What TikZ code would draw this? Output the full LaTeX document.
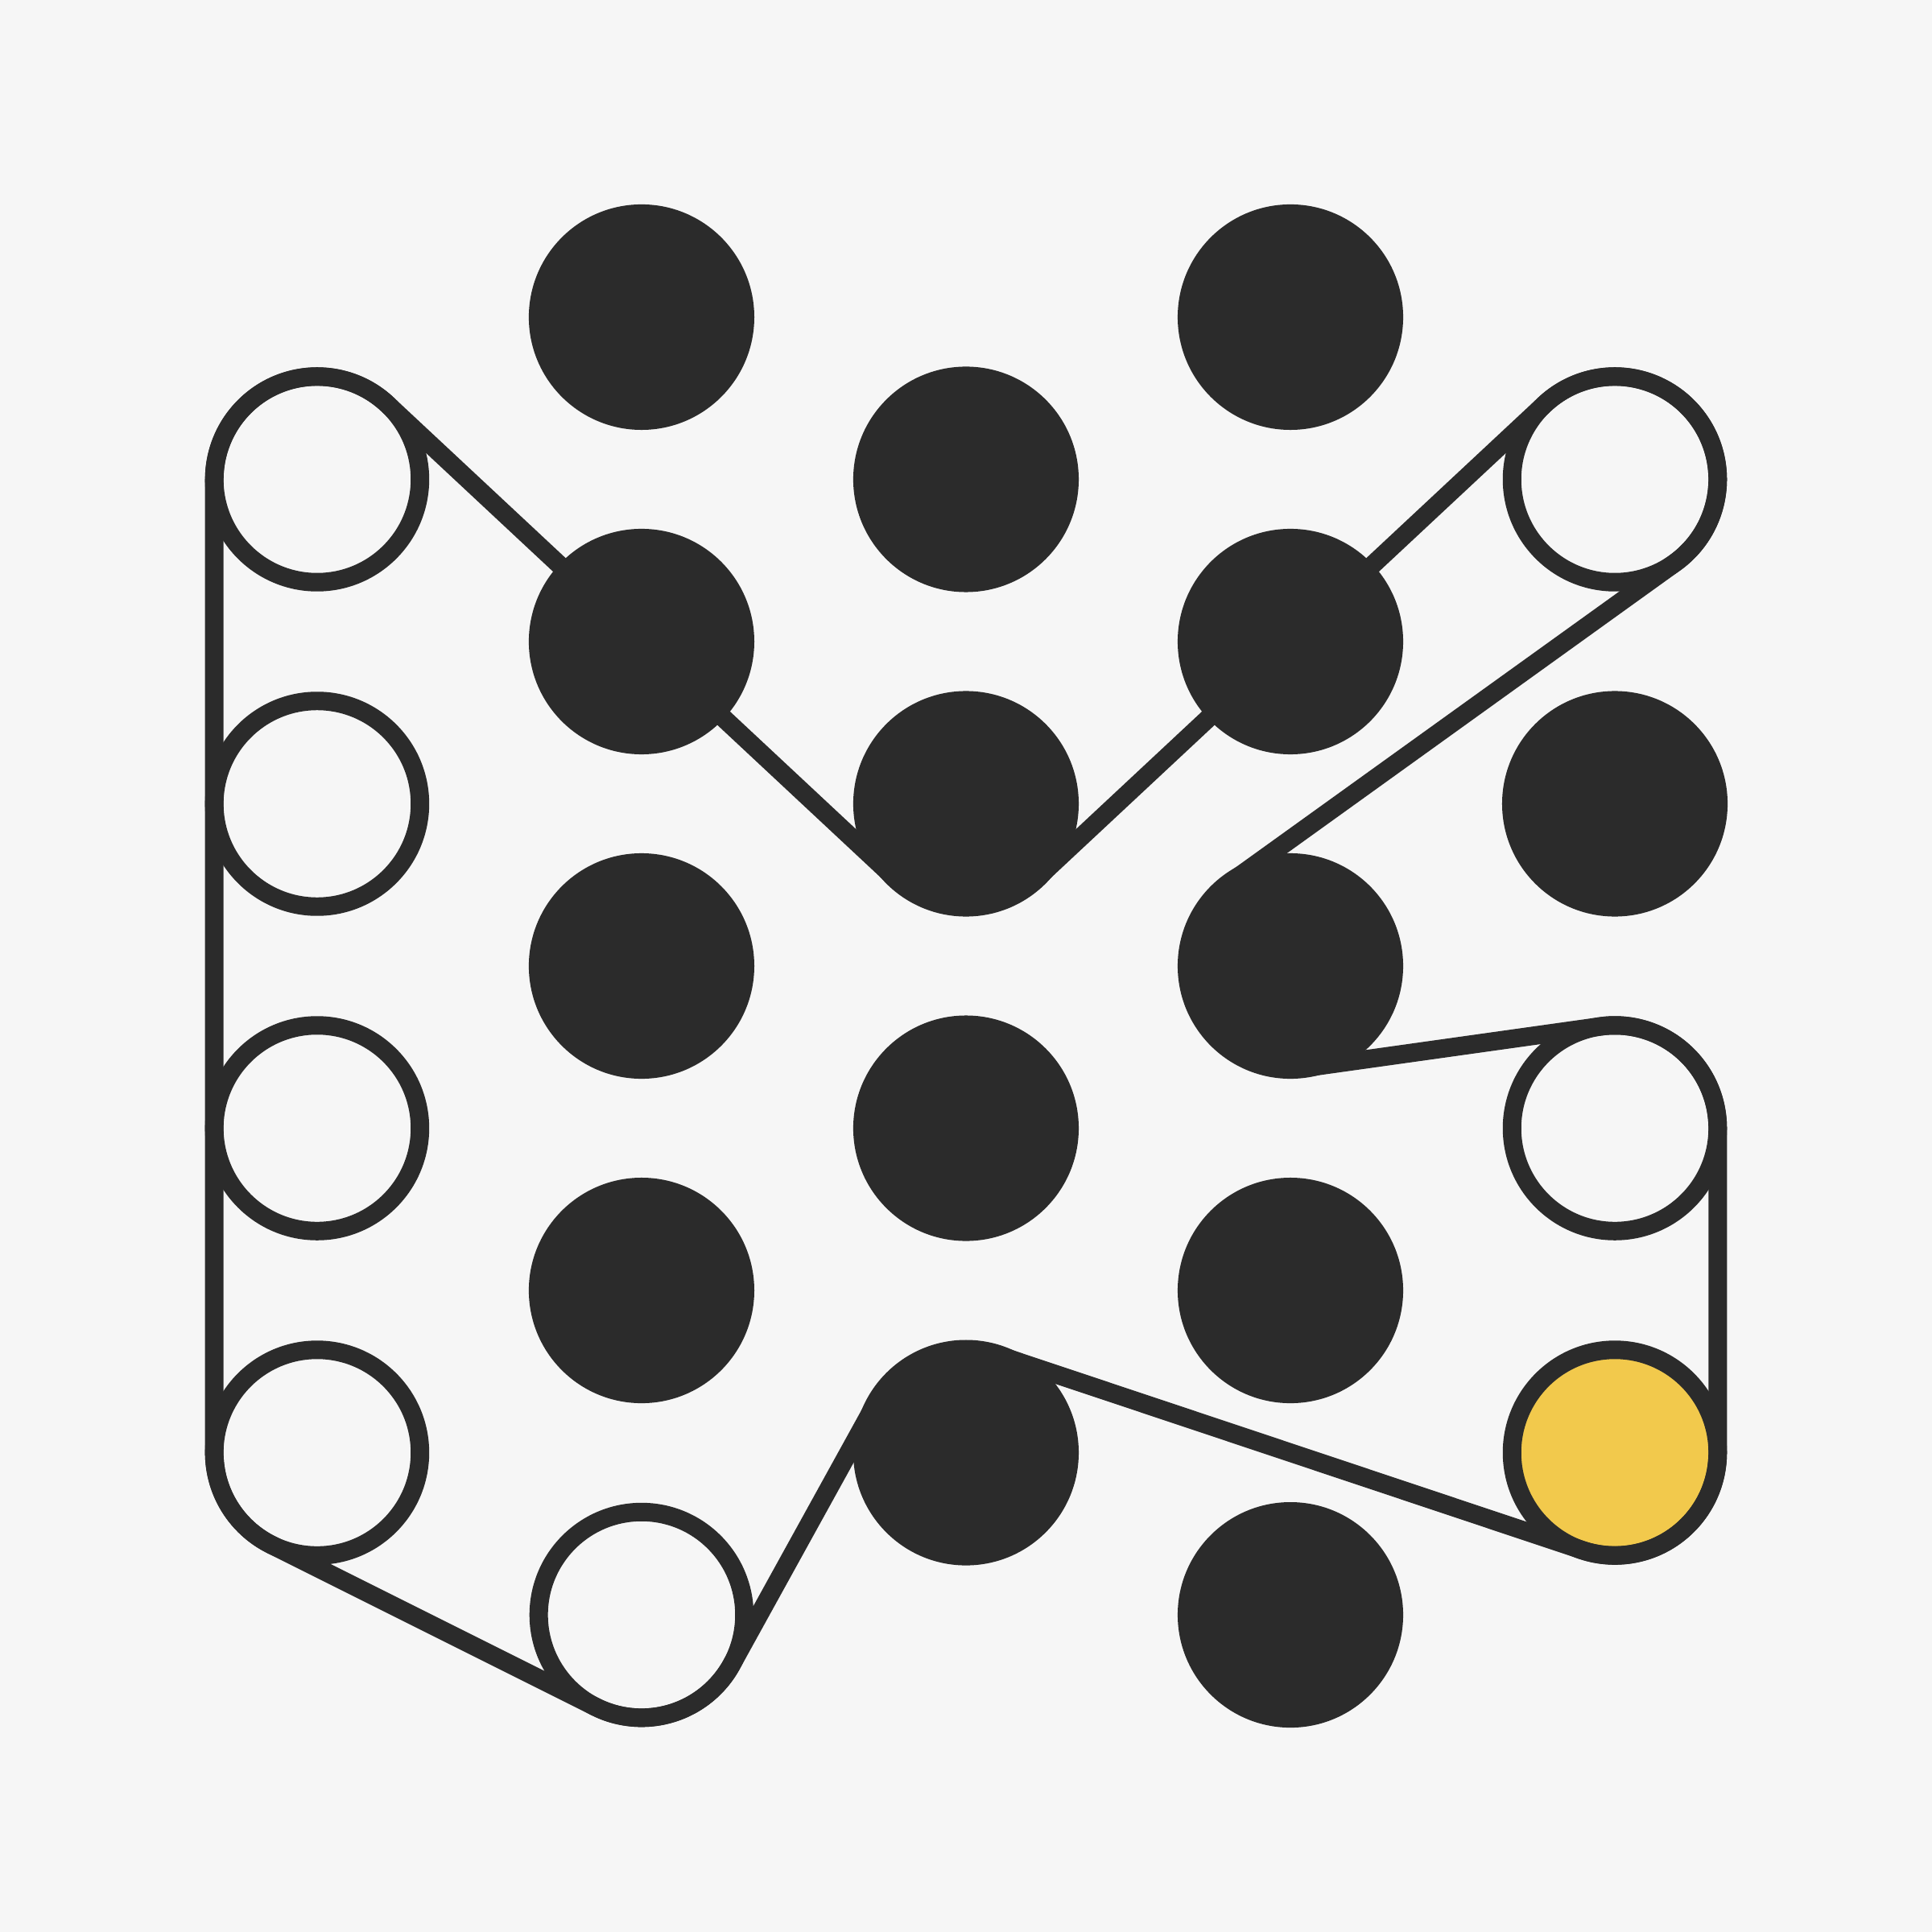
\documentclass[tikz,border=0pt]{standalone}
\definecolor{bg}{HTML}{F6F6F6}
\definecolor{ink}{HTML}{2B2B2B}
\definecolor{gold}{HTML}{F2C94C}
\begin{document}
\begin{tikzpicture}[x=1cm,y=1cm,
  dot/.style={circle,fill=ink,minimum size=1.39cm,inner sep=0pt,outer sep=0pt},
  ring/.style={circle,draw=ink,fill=bg,line width=0.114cm,minimum size=1.268cm,inner sep=0pt},
  gring/.style={ring,fill=gold},
  belt/.style={draw=ink,line width=0.114cm,line join=round}]
\fill[bg] (-5.955,-5.955) rectangle (5.955,5.955);
\useasboundingbox (-5.955,-5.955) rectangle (5.955,5.955);
% filled dots
\node[dot] (d1) at (-2,4) {};
\node[dot] (d2) at (-2,2) {};
\node[dot] (d3) at (-2,0) {};
\node[dot] (d4) at (-2,-2) {};
\node[dot] (d5) at (0,3) {};
\node[dot] (d6) at (0,1) {};
\node[dot] (d7) at (0,-1) {};
\node[dot] (d8) at (0,-3) {};
\node[dot] (d9) at (2,4) {};
\node[dot] (d10) at (2,2) {};
\node[dot] (d11) at (2,0) {};
\node[dot] (d12) at (2,-2) {};
\node[dot] (d13) at (2,-4) {};
\node[dot] (d14) at (4,1) {};
% rings
\node[ring] (r1) at (-4,3) {};
\node[ring] (r2) at (-4,1) {};
\node[ring] (r3) at (-4,-1) {};
\node[ring] (r4) at (-4,-3) {};
\node[ring] (r5) at (-2,-4) {};
\node[ring] (r6) at (4,3) {};
\node[ring] (r7) at (4,-1) {};
\node[gring] (g1) at (4,-3) {};
% tangent points of the belt
\coordinate (t1) at (-4.634,3);
\coordinate (t2) at (-4.634,-3);
\coordinate (t3) at (-2.2835,-4.5671);
\coordinate (t4) at (-0.555,-2.694);
\coordinate (t5) at (3.799,-3.601);
\coordinate (t6) at (4.634,-1);
\coordinate (t7) at (2.088,-0.628);
\coordinate (t8) at (4.370,2.485);
\coordinate (t9) at (0.4327,0.5366);
\coordinate (t10) at (-3.567,3.463);
% belt
\draw[belt] (t1) -- (t2) arc[start angle=180,end angle=243.43,radius=0.634]
  -- (t3) arc[start angle=243.43,end angle=331.12,radius=0.634]
  -- (t4) arc[start angle=151.12,end angle=71.52,radius=0.634]
  -- (t5) arc[start angle=251.52,end angle=360,radius=0.634]
  -- (t6) arc[start angle=0,end angle=97.99,radius=0.634]
  -- (t7) arc[start angle=277.99,end angle=125.71,radius=0.634]
  -- (t8) arc[start angle=-54.29,end angle=133.04,radius=0.634]
  -- (t9) arc[start angle=-46.96,end angle=-133.04,radius=0.634]
  -- (t10) arc[start angle=46.96,end angle=180,radius=0.634] -- cycle;
\end{tikzpicture}
\end{document}
